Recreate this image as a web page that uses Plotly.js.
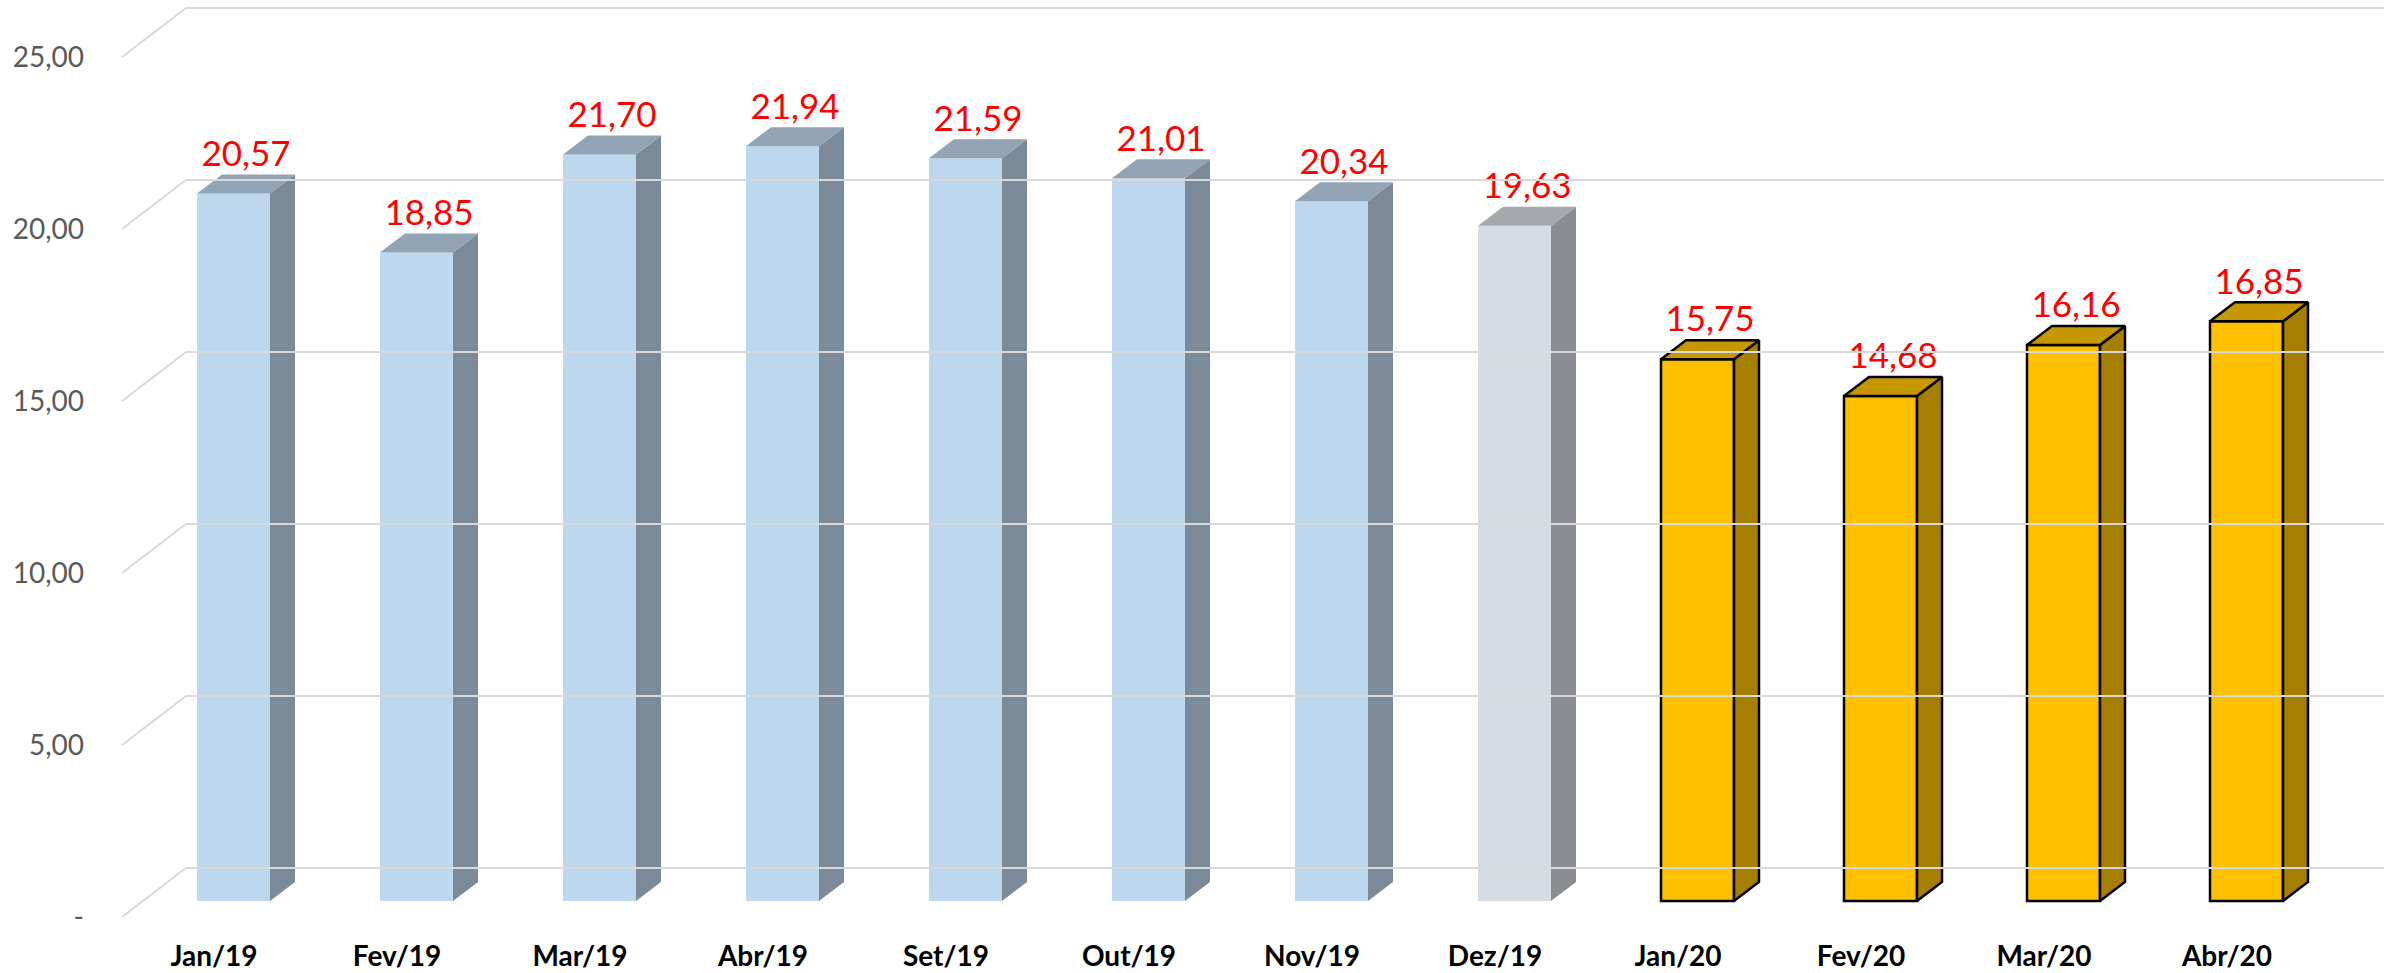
<!DOCTYPE html>
<html>
<head>
<meta charset="utf-8">
<script src="https://cdn.plot.ly/plotly-3.0.1.min.js"></script>
<style>html,body{margin:0;padding:0;background:#fff;}#chart{width:2399px;height:973px;}</style>
</head>
<body>
<div id="chart"></div>
<script>
// ---- data ----
const categories = ['Jan/19','Fev/19','Mar/19','Abr/19','Set/19','Out/19','Nov/19','Dez/19','Jan/20','Fev/20','Mar/20','Abr/20'];
const values = [20.57, 18.85, 21.70, 21.94, 21.59, 21.01, 20.34, 19.63, 15.75, 14.68, 16.16, 16.85];
const yTickVals = [0, 5, 10, 15, 20, 25];
const yTickText = ['-', '5,00', '10,00', '15,00', '20,00', '25,00'];

// ---- geometry (pixels -> axis units) ----
const W = 2399, H = 973;
const ML = 122, MR = 15, MT = 2, MB = 56;
const plotW = W - ML - MR, plotH = H - MT - MB;
const pxPerY = 34.4, pitch = 183;
const yRange = plotH / pxPerY;
const floorDX = 64 / pitch, floorDY = 49 / pxPerY;   // full floor depth
const xStart = (122 - 214) / pitch;
const xRange = [xStart, xStart + plotW / pitch];
const barOff = 19.5 / pitch, barW = 73 / pitch;      // front face center offset & width
const baseY = 16 / pxPerY;                           // bar front plane above front floor
const depX = 25 / pitch, depY = 19 / pxPerY;         // bar depth

const styles = [
  {idx: i => i < 7, front: '#BDD7EE', side: '#7A8A99', top: '#91A3B4', line: null},
  {idx: i => i === 7, front: '#D6DCE4', side: '#8A8E93', top: '#A5A8AE', line: null},
  {idx: i => i > 7, front: '#FFC000', side: '#A67F00', top: '#C79700', line: '#000000'}
];

const traces = [];
// dummy trace to activate x2/y2 subplot (back-wall gridlines)
traces.push({type: 'scatter', x: [0], y: [0], xaxis: 'x2', yaxis: 'y2', mode: 'markers',
  marker: {opacity: 0}, hoverinfo: 'skip', showlegend: false});

styles.forEach(st => {
  const ids = values.map((v, i) => i).filter(st.idx);
  traces.push({
    type: 'bar', x: ids.map(i => i + barOff), y: ids.map(i => values[i]),
    base: ids.map(() => baseY), width: barW,
    marker: {color: st.front, line: {color: st.line || st.front, width: st.line ? 2.5 : 0}},
    xaxis: 'x', yaxis: 'y', hoverinfo: 'skip', showlegend: false
  });
  const sx = [], sy = [], tx = [], ty = [];
  ids.forEach(i => {
    const xl = i + barOff - barW / 2, xr = i + barOff + barW / 2;
    const b = baseY, t = baseY + values[i];
    sx.push(xr, xr + depX, xr + depX, xr, xr, null);
    sy.push(b, b + depY, t + depY, t, b, null);
    tx.push(xl, xr, xr + depX, xl + depX, xl, null);
    ty.push(t, t, t + depY, t + depY, t, null);
  });
  const ln = st.line ? {color: st.line, width: 2.5} : {width: 0};
  traces.push({type: 'scatter', mode: 'lines', x: sx, y: sy, fill: 'toself', fillcolor: st.side,
    line: ln, connectgaps: false, hoverinfo: 'skip', showlegend: false});
  traces.push({type: 'scatter', mode: 'lines', x: tx, y: ty, fill: 'toself', fillcolor: st.top,
    line: ln, connectgaps: false, hoverinfo: 'skip', showlegend: false});
});

// floor-depth diagonals connecting front tick labels to back wall gridlines
const dx = [], dy = [];
yTickVals.forEach(v => { dx.push(xRange[0], xRange[0] + floorDX, null); dy.push(v, v + floorDY, null); });
traces.push({type: 'scatter', mode: 'lines', x: dx, y: dy, line: {color: '#D9D9D9', width: 2},
  hoverinfo: 'skip', showlegend: false, cliponaxis: false});

// data labels
traces.push({
  type: 'scatter', mode: 'text',
  x: values.map((v, i) => i + barOff + depX / 2),
  y: values.map(v => baseY + v + depY),
  text: values.map(v => v.toFixed(2).replace('.', ',')),
  textposition: 'top center',
  textfont: {family: 'Lato, "Open Sans", sans-serif', size: 35, color: '#FF0000'},
  hoverinfo: 'skip', showlegend: false, cliponaxis: false
});

const layout = {
  width: W, height: H,
  margin: {l: ML, r: MR, t: MT, b: MB, pad: 0},
  paper_bgcolor: '#FFFFFF', plot_bgcolor: 'rgba(0,0,0,0)',
  showlegend: false, barmode: 'overlay',
  xaxis: {range: xRange, tickvals: categories.map((c, i) => i), ticktext: categories,
    showgrid: false, zeroline: false, showline: false, ticks: '', ticklabelstandoff: 20,
    tickfont: {family: 'Lato, "Open Sans", sans-serif', size: 28, color: '#000000', weight: 'bold'}},
  yaxis: {range: [0, yRange], tickvals: yTickVals, ticktext: yTickText,
    showgrid: false, zeroline: false, showline: false, ticks: '', ticklabelstandoff: 37,
    tickfont: {family: 'Lato, "Open Sans", sans-serif', size: 28, color: '#595959'}},
  xaxis2: {domain: [(186 - ML) / plotW, 1], range: [0, 1], anchor: 'y2', visible: false, showgrid: false},
  yaxis2: {range: [-floorDY, yRange - floorDY], anchor: 'x2', overlaying: 'y', tickvals: yTickVals,
    showticklabels: false, showgrid: true, gridcolor: '#D9D9D9', gridwidth: 2, zeroline: false,
    showline: false, ticks: ''}
};

Plotly.newPlot('chart', traces, layout, {staticPlot: true, displayModeBar: false});
</script>
</body>
</html>
